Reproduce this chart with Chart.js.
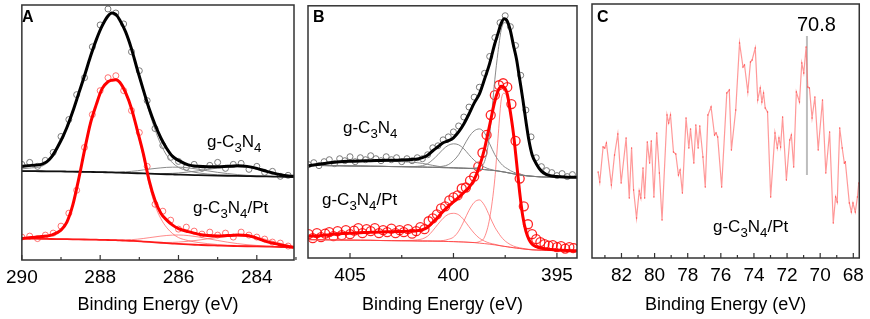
<!DOCTYPE html>
<html>
<head>
<meta charset="utf-8">
<script src="https://cdn.jsdelivr.net/npm/chart.js@4.4.0/dist/chart.umd.min.js"></script>
<style>
  body { margin: 0; background: #fff; }
  #wrap { position: relative; width: 870px; height: 319px; }
  .panel { position: absolute; top: 0; height: 319px; }
</style>
</head>
<body>
<div id="wrap">
  <div class="panel" style="left:0;width:300px"><canvas id="chartA"></canvas></div>
  <div class="panel" style="left:300px;width:285px"><canvas id="chartB"></canvas></div>
  <div class="panel" style="left:585px;width:285px"><canvas id="chartC"></canvas></div>
</div>
<script>
// ---- panel A : C 1s ----
const ticksA = [290, 288, 286, 284];
const minorA = [289, 287, 285, 283];
const aFitX = [290, 289.75, 289.5, 289.25, 289, 288.85, 288.7, 288.55, 288.4, 288.25, 288.1, 287.95, 287.8, 287.7, 287.6, 287.5, 287.35, 287.2, 287.05, 286.9, 286.75, 286.6, 286.45, 286.3, 286.15, 286, 285.75, 285.5, 285.25, 285, 284.75, 284.5, 284.25, 284, 283.75, 283.5, 283.25, 283.05];
const aBlackFit = [94, 95, 96, 103, 120, 133, 149, 167, 185, 204, 221, 235, 245, 248, 246.5, 241, 229, 212, 191, 171, 152, 136, 122.5, 112, 104, 100, 95.5, 94, 93.5, 93.5, 94, 94.5, 94, 92, 89, 86.5, 84.5, 84];
const aBlackBase = [89.3, 89.2, 89.1, 89, 88.9, 88.8, 88.7, 88.6, 88.5, 88.4, 88.3, 88.2, 88, 87.9, 87.8, 87.7, 87.5, 87.3, 87.1, 86.9, 86.7, 86.5, 86.3, 86.1, 85.9, 85.7, 85.4, 85.2, 85, 84.8, 84.6, 84.4, 84.2, 84, 83.9, 83.7, 83.5, 83.4];
const aBlackMain = [91.5, 92.5, 94, 101.5, 119, 132.5, 148.5, 166.5, 184.5, 203.5, 220.5, 234.5, 244.5, 247.5, 246, 240.5, 228, 211, 189.5, 169, 149, 131, 116, 105, 97.5, 93, 89.5, 87.5, 86.3, 85.5, 85, 84.6, 84.3, 84.1, 83.9, 83.7, 83.5, 83.4];
const aBlackC2 = [89.3, 89.2, 89.1, 89, 88.9, 88.8, 88.7, 88.6, 88.5, 88.4, 88.3, 88.2, 88.1, 88.1, 88.1, 88.2, 88.5, 89, 89.6, 90.4, 91.2, 91.9, 92.5, 93, 93.2, 93.2, 92.5, 91.2, 89.5, 88, 86.8, 85.8, 85, 84.5, 84.1, 83.8, 83.5, 83.4];
const aBlackC3 = [89.3, 89.2, 89.1, 89, 88.9, 88.8, 88.7, 88.6, 88.5, 88.4, 88.3, 88.2, 88, 87.9, 87.8, 87.7, 87.5, 87.3, 87.1, 86.9, 86.8, 86.7, 86.7, 86.8, 87, 87.4, 88.3, 89.5, 91, 92.3, 93.2, 93.6, 93.2, 91.8, 89.5, 87.3, 85.3, 84.3];
const aRedFit = [21.7, 22.5, 23.5, 25, 30, 38, 55, 81, 110, 137, 156, 172, 179, 180.5, 181, 178.5, 168, 152, 130, 107, 80, 60, 47, 40, 35, 31.5, 28.5, 26, 24.5, 24, 24.5, 25, 24.5, 22, 18.5, 16.2, 14, 12.7];
const aRedBase = [21.5, 21.4, 21.3, 21.1, 21, 20.9, 20.8, 20.7, 20.6, 20.5, 20.4, 20.2, 20.1, 20, 19.9, 19.7, 19.5, 19.2, 18.9, 18.5, 18.1, 17.7, 17.3, 16.9, 16.5, 16.1, 15.6, 15.2, 14.8, 14.5, 14.2, 14, 13.8, 13.6, 13.4, 13.2, 12.9, 12.7];
const aRedMain = [21.6, 22.2, 23, 24.3, 29.5, 37.5, 54.5, 80.5, 109.5, 136.5, 155.5, 171.5, 178.5, 180, 180.5, 178, 167, 150.5, 128, 104, 76, 55, 41.5, 32.5, 26.5, 22.5, 19.5, 17.6, 16.4, 15.5, 14.9, 14.5, 14.2, 13.9, 13.6, 13.3, 13, 12.7];
const aRedC2 = [21.5, 21.4, 21.3, 21.1, 21, 20.9, 20.8, 20.7, 20.6, 20.5, 20.4, 20.2, 20.1, 20, 20, 20, 20.1, 20.4, 20.9, 21.6, 22.4, 23.2, 24, 24.6, 25, 25.1, 24.5, 23.2, 21.4, 19.6, 17.9, 16.5, 15.4, 14.6, 14, 13.5, 13, 12.7];
const aRedC3 = [21.5, 21.4, 21.3, 21.1, 21, 20.9, 20.8, 20.7, 20.6, 20.5, 20.4, 20.2, 20.1, 20, 19.9, 19.7, 19.5, 19.2, 18.9, 18.5, 18.1, 17.8, 17.6, 17.6, 17.7, 18, 18.8, 19.9, 21.3, 22.6, 23.6, 24.2, 24.1, 22.8, 20.5, 17.8, 15.2, 13.6];
const aDotX = [290, 289.8, 289.6, 289.4, 289.2, 289, 288.8, 288.6, 288.4, 288.2, 288, 287.8, 287.6, 287.4, 287.2, 287, 286.8, 286.6, 286.4, 286.2, 286, 285.8, 285.6, 285.4, 285.2, 285, 284.8, 284.6, 284.4, 284.2, 284, 283.8, 283.6, 283.4, 283.2];
const aBlackDots = [96, 98, 94, 100, 108, 124, 141, 166, 183, 214, 236, 252, 248, 237, 209, 190, 160, 132, 115, 103, 99, 93, 96, 92, 95, 98, 92, 96, 97, 91, 94, 88, 89, 84, 85];
const aRedDots = [23, 24, 21.5, 25, 27, 34, 47, 70, 113, 146, 170, 183, 185, 170, 150, 128, 94, 56, 49, 40, 31, 33, 29, 26, 28, 25, 27, 23, 28, 25, 23, 21, 18, 17, 14];

// ---- panel B : N 1s ----
const ticksB = [405, 400, 395];
const minorB = [402.5, 397.5];
const bFitX = [407, 406.5, 406, 405.5, 405, 404.5, 404, 403.5, 403, 402.5, 402, 401.75, 401.5, 401.25, 401, 400.75, 400.5, 400.25, 400, 399.75, 399.5, 399.25, 399, 398.75, 398.5, 398.25, 398, 397.85, 397.7, 397.55, 397.4, 397.25, 397.1, 396.95, 396.8, 396.65, 396.5, 396.35, 396.2, 396, 395.75, 395.5, 395.25, 395, 394.5, 394.03];
const bBlackFit = [93, 94.5, 96, 97, 97.5, 97.8, 98, 98.3, 98.5, 98.8, 99.3, 99.7, 101, 103.5, 108, 112, 116, 118, 121, 127, 135, 145, 156, 165, 180, 196, 216, 226, 236, 241, 238.5, 229, 214, 200, 180, 160, 138, 118, 104, 95, 87.5, 84, 82.5, 82, 81.3, 81.3];
const bBlackBase = [93.3, 93.2, 93, 92.9, 92.7, 92.6, 92.4, 92.3, 92.1, 92, 91.8, 91.7, 91.6, 91.4, 91.3, 91.2, 91, 90.9, 90.8, 90.6, 90.4, 90.2, 90, 89.5, 89, 88.5, 88, 87.6, 87.1, 86.6, 86, 85.4, 84.8, 84.2, 83.7, 83.2, 82.9, 82.6, 82.3, 82, 81.7, 81.5, 81.4, 81.3, 81.1, 81];
const bBlackMain = [93.3, 93.2, 93, 92.9, 92.7, 92.6, 92.4, 92.3, 92.1, 92, 91.8, 91.7, 91.6, 91.4, 91.3, 91.2, 91, 90.9, 90.8, 90.6, 90.5, 90.4, 90.5, 92, 97, 125, 180, 207, 229, 237, 236, 228, 212, 198, 178, 158, 136.5, 116.5, 102.5, 93.5, 86.8, 83.5, 82.2, 81.6, 81.2, 81];
const bBlackC2 = [93.3, 93.2, 93, 92.9, 92.7, 92.6, 92.4, 92.3, 92.1, 92, 91.8, 91.7, 91.6, 91.5, 91.5, 91.8, 92.5, 94, 98, 104, 113, 122, 128, 130, 126, 115, 104, 99, 95, 92, 90, 88, 86.5, 85.3, 84.5, 83.7, 83, 82.6, 82.3, 82, 81.7, 81.5, 81.4, 81.3, 81.1, 81];
const bBlackC3 = [93.3, 93.2, 93, 92.9, 92.7, 92.6, 92.4, 92.3, 92.1, 92, 92, 92.3, 93, 95, 99, 104, 109.5, 113.5, 115, 114, 110, 104, 98.5, 94.5, 91.5, 89.5, 88.2, 87.6, 87.1, 86.6, 86, 85.4, 84.8, 84.2, 83.7, 83.2, 82.9, 82.6, 82.3, 82, 81.7, 81.5, 81.4, 81.3, 81.1, 81];
const bBlackC4 = [93.3, 94.8, 95.8, 96.6, 97, 97.3, 97.4, 97.4, 97.3, 97, 96.5, 96, 95.3, 94.3, 93.3, 92.4, 91.6, 91.1, 90.8, 90.6, 90.4, 90.2, 90, 89.5, 89, 88.5, 88, 87.6, 87.1, 86.6, 86, 85.4, 84.8, 84.2, 83.7, 83.2, 82.9, 82.6, 82.3, 82, 81.7, 81.5, 81.4, 81.3, 81.1, 81];
const bRedFit = [22, 22.5, 23.5, 24.5, 25, 25.5, 26, 26.3, 26.5, 26.8, 27, 27.5, 28.5, 31, 36, 41, 47, 52, 56.5, 61, 66, 71, 79, 92, 110, 134, 158, 168, 173, 172, 165, 147, 125, 96, 66, 42, 27, 18.5, 14, 11.5, 9.8, 9, 8.5, 8, 7.5, 7.3];
const bRedBase = [18.5, 18.4, 18.3, 18.1, 18, 17.9, 17.8, 17.6, 17.5, 17.4, 17.3, 17.2, 17.1, 17.1, 17, 16.9, 16.8, 16.6, 16.5, 16.3, 16.1, 15.8, 15.5, 15, 14.5, 13.9, 13.2, 12.7, 12.2, 11.7, 11.3, 10.8, 10.4, 10, 9.6, 9.2, 8.8, 8.5, 8.2, 8, 7.8, 7.6, 7.5, 7.5, 7.3, 7.2];
const bRedMain = [18.5, 18.4, 18.3, 18.1, 18, 17.9, 17.8, 17.6, 17.5, 17.4, 17.3, 17.2, 17.1, 17.1, 17, 16.9, 16.8, 16.6, 16.5, 16.3, 16.1, 15.8, 15.6, 16.5, 21, 40, 80, 120, 158, 166, 161, 145, 124, 95, 65, 41, 26, 17.5, 13, 10.8, 9.3, 8.6, 8.2, 7.8, 7.4, 7.2];
const bRedC2 = [18.5, 18.4, 18.3, 18.1, 18, 17.9, 17.8, 17.6, 17.5, 17.4, 17.3, 17.2, 17.1, 17.1, 17.1, 17.2, 17.6, 18.8, 21, 27, 37, 48, 56, 58.5, 53, 42, 31, 26, 21.5, 18, 15.5, 13.5, 12, 11, 10.3, 9.7, 9.2, 8.8, 8.5, 8.2, 7.9, 7.7, 7.5, 7.5, 7.3, 7.2];
const bRedC3 = [18.5, 18.4, 18.3, 18.1, 18, 17.9, 17.8, 17.6, 17.5, 17.5, 17.8, 18.3, 19.3, 22, 27.5, 34, 40, 44, 45, 43.5, 38.5, 31.5, 25, 20, 17, 15, 13.8, 13, 12.3, 11.8, 11.3, 10.8, 10.4, 10, 9.6, 9.2, 8.8, 8.5, 8.2, 8, 7.8, 7.6, 7.5, 7.5, 7.3, 7.2];
const bBlackDotX = [407, 406.75, 406.5, 406.25, 406, 405.75, 405.5, 405.25, 405, 404.75, 404.5, 404.25, 404, 403.75, 403.5, 403.25, 403, 402.75, 402.5, 402.25, 402, 401.75, 401.5, 401.25, 401, 400.75, 400.5, 400.25, 400, 399.75, 399.5, 399.25, 399, 398.75, 398.5, 398.25, 398, 397.75, 397.5, 397.25, 397, 396.75, 396.5, 396.25, 396, 395.75, 395.5, 395.25, 395, 394.75, 394.5, 394.25];
const bBlackDots = [94, 96, 93, 97, 99, 95, 100, 98, 102, 97, 101, 99, 103, 100, 98, 102, 99, 101, 97, 100, 98, 101, 100, 104, 111, 113, 119, 122, 127, 133, 142, 152, 162, 172, 186, 203, 222, 237, 244, 233, 214, 184, 149, 122, 101, 92, 88, 86, 83, 85, 82, 84];
const bRedDotX = [407, 406.8, 406.6, 406.4, 406.2, 406, 405.8, 405.6, 405.4, 405.2, 405, 404.8, 404.6, 404.4, 404.2, 404, 403.8, 403.6, 403.4, 403.2, 403, 402.8, 402.6, 402.4, 402.2, 402, 401.8, 401.6, 401.4, 401.2, 401, 400.8, 400.6, 400.4, 400.2, 400, 399.8, 399.6, 399.4, 399.2, 399, 398.8, 398.6, 398.4, 398.2, 398, 397.8, 397.6, 397.4, 397.2, 397, 396.8, 396.6, 396.4, 396.2, 396, 395.8, 395.6, 395.4, 395.2, 395, 394.8, 394.6, 394.4, 394.2];
const bRedDots = [24, 20, 25, 21, 24.5, 26, 22, 27, 23, 28, 24, 27.5, 30, 25, 29, 27, 30, 25, 28, 26, 29.5, 25, 28, 26, 29, 24.5, 27, 31, 29, 37, 40, 44, 50, 52, 58, 61, 63, 70, 71, 78, 82, 92, 106, 124, 144, 164, 174, 176, 172, 155, 118, 80, 52, 34, 24, 19, 16, 14, 12.5, 13, 11, 12, 9.5, 11, 10];

// ---- panel C : Pt 4f ----
const ticksC = [82, 80, 78, 76, 74, 72, 70, 68];
const minorC = [83, 81, 79, 77, 75, 73, 71, 69];
const cX = [83.41, 83.31, 83.11, 83.01, 82.91, 82.61, 82.42, 82.22, 82.02, 81.72, 81.53, 81.39, 81.27, 81.09, 80.93, 80.83, 80.70, 80.60, 80.44, 80.30, 80.20, 80.04, 79.87, 79.71, 79.55, 79.25, 79.15, 79.04, 78.86, 78.72, 78.56, 78.46, 78.32, 78.10, 77.93, 77.83, 77.63, 77.51, 77.37, 77.27, 77.08, 76.94, 76.78, 76.59, 76.38, 76.29, 76.19, 75.95, 75.64, 75.49, 75.36, 75.10, 74.87, 74.66, 74.57, 74.37, 74.21, 74.11, 73.92, 73.77, 73.62, 73.52, 73.42, 73.32, 73.18, 72.99, 72.73, 72.59, 72.49, 72.39, 72.27, 72.04, 71.84, 71.74, 71.60, 71.44, 71.25, 71.11, 70.99, 70.85, 70.75, 70.65, 70.49, 70.32, 70.12, 69.86, 69.66, 69.43, 69.21, 69.07, 68.97, 68.82, 68.67, 68.54, 68.48, 68.24, 68.12, 68.02, 67.88, 67.75, 67.67];
const cY = [86, 76, 111, 110, 115, 73, 103, 124, 75, 120, 60, 110, 68, 40, 67, 60, 90, 60, 116, 95, 117, 61, 125, 85, 38, 143, 135, 143, 106, 104, 83, 88, 65, 140, 110, 129, 95, 133, 110, 132, 101, 71, 143, 151, 123, 125, 121, 71, 165, 168, 108, 148, 215, 191, 193, 166, 196, 198, 210, 158, 170, 156, 165, 150, 146, 61, 125, 110, 120, 111, 141, 78, 118, 123, 91, 166, 156, 195, 185, 211, 171, 170, 140, 161, 108, 158, 85, 126, 35, 61, 56, 130, 110, 95, 96, 55, 46, 55, 46, 61, 75];
const cPeak = 70.8;
const cPeakSpan = [83, 222];

const FONT = 'Arial, "Liberation Sans", sans-serif';
const pts = (xs, ys) => xs.map((x, i) => ({ x, y: ys[i] }));

function line(xs, ys, color, width, order) {
  return { data: pts(xs, ys), showLine: true, borderColor: color, borderWidth: width,
           pointRadius: 0, cubicInterpolationMode: 'monotone', order };
}
function dots(xs, ys, color, r, w) {
  return { data: pts(xs, ys), showLine: false, pointRadius: r, pointBorderColor: color,
           pointBackgroundColor: 'rgba(0,0,0,0)', pointBorderWidth: w, order: 9 };
}

function drawLabel(ctx, l) {
  let x = l.x;
  l.parts.forEach(p => {
    const sub = /^\d$/.test(p) && l.chem;
    const size = sub ? l.size * 0.78 : l.size;
    ctx.font = (l.bold ? 'bold ' : '') + size + 'px ' + FONT;
    ctx.fillText(p, x, sub ? l.y + l.size * 0.32 : l.y);
    x += ctx.measureText(p).width;
  });
}

function framePlugin(major, minor, labels) {
  return {
    id: 'frame',
    afterDraw(chart) {
      const { ctx, chartArea: a, scales: { x } } = chart;
      ctx.save();
      ctx.strokeStyle = '#333';
      ctx.lineWidth = 1.5;
      ctx.strokeRect(a.left, a.top, a.right - a.left, a.bottom - a.top);
      ctx.lineWidth = 1.2;
      ctx.beginPath();
      major.forEach(v => { const p = x.getPixelForValue(v); ctx.moveTo(p, a.bottom); ctx.lineTo(p, a.bottom - 5); });
      minor.forEach(v => { const p = x.getPixelForValue(v); ctx.moveTo(p, a.bottom); ctx.lineTo(p, a.bottom - 3); });
      ctx.stroke();
      ctx.fillStyle = '#000';
      ctx.textBaseline = 'alphabetic';
      labels.forEach(l => drawLabel(ctx, l));
      ctx.restore();
    }
  };
}

function options(min, max, ticks, bottom, padL, padR, ymax) {
  return {
    responsive: true, maintainAspectRatio: false, animation: false,
    layout: { padding: { left: padL, right: padR, top: 4, bottom: 0 } },
    plugins: { legend: { display: false }, tooltip: { enabled: false } },
    scales: {
      x: {
        type: 'linear', reverse: true, min, max,
        afterBuildTicks: s => { s.ticks = ticks.map(v => ({ value: v })); },
        afterFit: s => { s.height = 319 - bottom; },
        grid: { display: false, drawTicks: false },
        border: { display: false },
        ticks: { color: '#000', font: { family: FONT, size: 19 }, padding: 6 },
        title: { display: true, text: 'Binding Energy (eV)', color: '#000',
                 font: { family: FONT, size: 18 }, padding: { top: 0, bottom: 3 } }
      },
      y: { display: false, min: 0, max: ymax }
    }
  };
}

const gC3N4 = ['g-C', '3', 'N', '4'];
const gC3N4Pt = ['g-C', '3', 'N', '4', '/Pt'];

new Chart(document.getElementById('chartA'), {
  type: 'scatter',
  data: { datasets: [
    line(aFitX, aBlackFit, '#000', 3, 1),
    line(aFitX, aRedFit, '#ff0000', 3, 1),
    line(aFitX, aBlackBase, '#111', 1.8, 2),
    line(aFitX, aRedBase, '#ff1a1a', 1.8, 2),
    line(aFitX, aBlackMain, '#8a8a8a', 1, 3),
    line(aFitX, aBlackC2, '#8a8a8a', 1, 3),
    line(aFitX, aBlackC3, '#8a8a8a', 1, 3),
    line(aFitX, aRedMain, 'rgba(255,90,90,0.7)', 1, 3),
    line(aFitX, aRedC2, 'rgba(255,90,90,0.7)', 1, 3),
    line(aFitX, aRedC3, 'rgba(255,90,90,0.7)', 1, 3),
    dots(aDotX, aBlackDots, '#7a7a7a', 3, 1),
    dots(aDotX, aRedDots, 'rgba(255,70,70,0.75)', 3, 1)
  ] },
  options: options(283.05, 290, ticksA, 260, 18, 6, 256),
  plugins: [framePlugin(ticksA, minorA, [
    { x: 22, y: 22, parts: ['A'], size: 16, bold: true },
    { x: 207, y: 147, parts: gC3N4, size: 17, chem: true },
    { x: 193, y: 213, parts: gC3N4Pt, size: 17, chem: true }
  ])]
});

new Chart(document.getElementById('chartB'), {
  type: 'scatter',
  data: { datasets: [
    line(bFitX, bBlackFit, '#000', 3, 1),
    line(bFitX, bRedFit, '#ff0000', 3, 1),
    line(bFitX, bBlackBase, '#777', 1, 2),
    line(bFitX, bRedBase, 'rgba(255,60,60,0.8)', 1, 2),
    line(bFitX, bBlackMain, '#8a8a8a', 1, 3),
    line(bFitX, bBlackC2, '#8a8a8a', 1, 3),
    line(bFitX, bBlackC3, '#8a8a8a', 1, 3),
    line(bFitX, bBlackC4, '#8a8a8a', 1, 3),
    line(bFitX, bRedMain, 'rgba(255,90,90,0.7)', 1, 3),
    line(bFitX, bRedC2, 'rgba(255,90,90,0.7)', 1, 3),
    line(bFitX, bRedC3, 'rgba(255,90,90,0.7)', 1, 3),
    dots(bBlackDotX, bBlackDots, '#7a7a7a', 3, 1),
    dots(bRedDotX, bRedDots, 'rgba(255,0,0,0.85)', 4.5, 1.3)
  ] },
  options: options(394.03, 407.03, ticksB, 258, 8, 8, 254),
  plugins: [framePlugin(ticksB, minorB, [
    { x: 13, y: 22, parts: ['B'], size: 16, bold: true },
    { x: 43, y: 133, parts: gC3N4, size: 17, chem: true },
    { x: 22, y: 205, parts: gC3N4Pt, size: 17, chem: true }
  ])]
});

new Chart(document.getElementById('chartC'), {
  type: 'scatter',
  data: { datasets: [
    { data: [{ x: cPeak, y: cPeakSpan[0] }, { x: cPeak, y: cPeakSpan[1] }], showLine: true,
      borderColor: '#bdbdbd', borderWidth: 2, pointRadius: 0, order: 2 },
    { data: pts(cX, cY), showLine: true, borderColor: 'rgba(255,110,110,0.7)', borderWidth: 1.2,
      pointRadius: 0.7, pointBackgroundColor: '#ff5050', pointBorderWidth: 0, tension: 0, order: 1 }
  ] },
  options: options(67.64, 83.78, ticksC, 258, 7, 6, 254),
  plugins: [framePlugin(ticksC, minorC, [
    { x: 12, y: 22, parts: ['C'], size: 16, bold: true },
    { x: 212, y: 31, parts: [cPeak.toFixed(1)], size: 20 },
    { x: 128, y: 232, parts: gC3N4Pt, size: 17, chem: true }
  ])]
});
</script>
</body>
</html>
